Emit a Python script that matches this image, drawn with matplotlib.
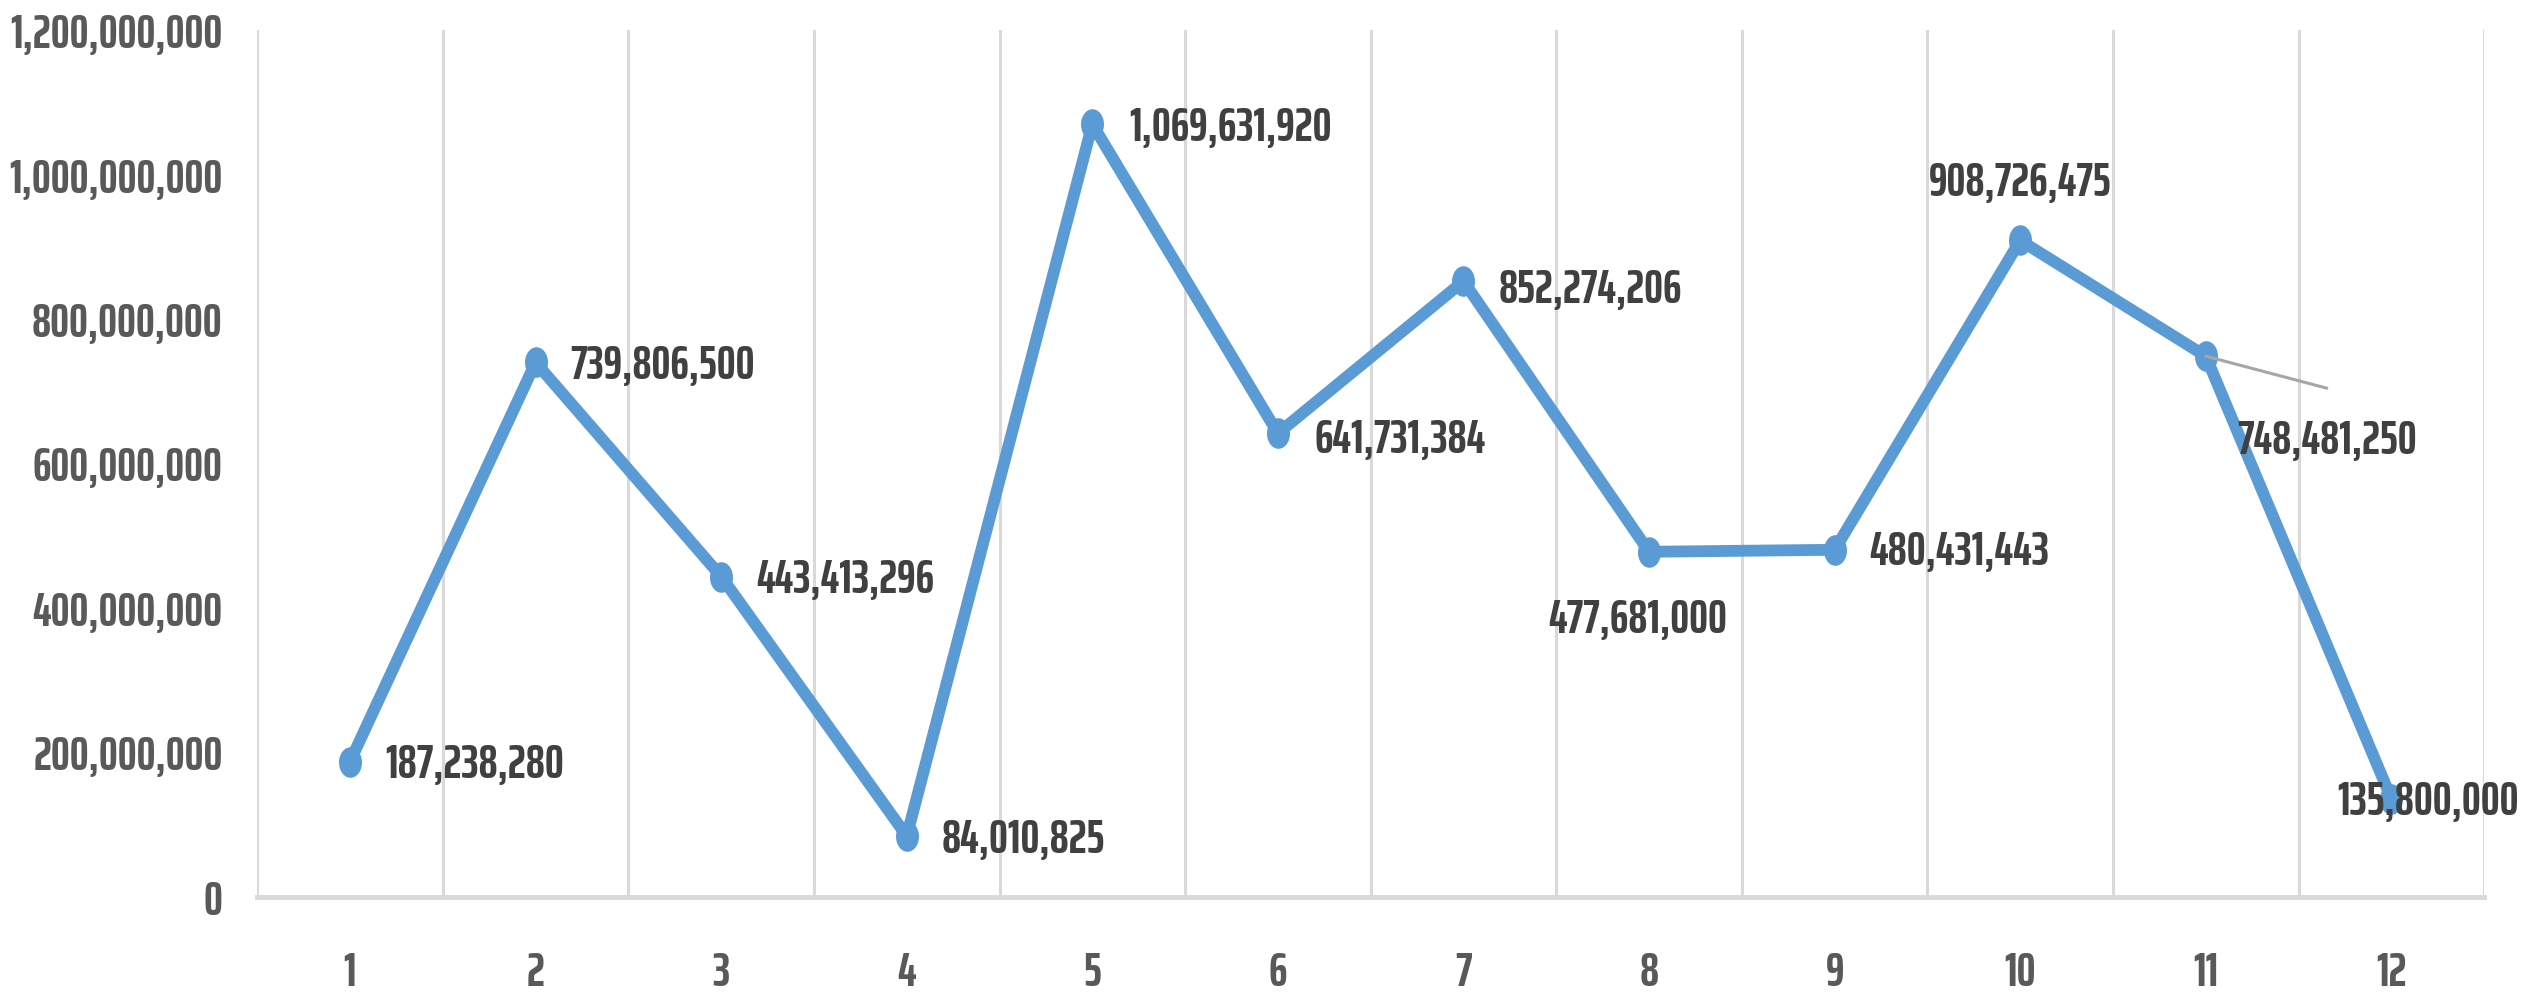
import matplotlib
matplotlib.use("Agg")
import numpy as np
import matplotlib.pyplot as plt
from matplotlib.path import Path
from matplotlib.ticker import FuncFormatter, MultipleLocator

# Datos del gráfico
months = [1, 2, 3, 4, 5, 6, 7, 8, 9, 10, 11, 12]
values = [187238280, 739806500, 443413296, 84010825, 1069631920, 641731384,
          852274206, 477681000, 480431443, 908726475, 748481250, 135800000]
y_ticks = [0, 200000000, 400000000, 600000000, 800000000, 1000000000, 1200000000]

plt.rcParams["font.family"] = ["Saira ExtraCondensed", "DejaVu Sans"]

BLUE = "#5B9BD5"
GRID = "#D9D9D9"
FS = 34

# marcador elíptico (más alto que ancho, como en la referencia)
t = np.linspace(0, 2 * np.pi, 60)
ellipse = Path(np.column_stack([0.74 * np.cos(t), np.sin(t)]), closed=True)

fig = plt.figure(figsize=(25.22, 10.02), dpi=100)
ax = fig.add_axes([0.102, 0.105, 0.883, 0.865])

ax.plot(months, values, color=BLUE, linewidth=8.5, solid_joinstyle="round",
        marker=ellipse, markersize=21, markerfacecolor=BLUE, markeredgecolor=BLUE, zorder=3)

ax.set_xlim(0.5, 12.5)
ax.set_ylim(0, 1200000000)
ax.set_xticks(months)
ax.set_yticks(y_ticks)
ax.xaxis.set_minor_locator(MultipleLocator(1, offset=0.5))
ax.grid(which="minor", axis="x", color=GRID, linewidth=2.2)
ax.tick_params(which="both", length=0)
ax.tick_params(axis="x", pad=38, labelsize=FS, labelcolor="#595959")
ax.tick_params(axis="y", pad=25, labelsize=FS, labelcolor="#595959")
ax.yaxis.set_major_formatter(FuncFormatter(lambda v, p: f"{int(v):,}"))
for lab in ax.get_xticklabels() + ax.get_yticklabels():
    lab.set_fontweight("bold")

for side in ["top", "right", "left"]:
    ax.spines[side].set_visible(False)
ax.spines["bottom"].set_color(GRID)
ax.spines["bottom"].set_linewidth(3.5)

# Etiquetas de datos: (dx, dy, ha) en píxeles
offsets = [(35, -3, "left"), (35, -3, "left"), (35, -3, "left"), (35, -3, "left"),
           (37, -3, "left"), (37, -6, "left"), (35, -8, "left"), (-11, -68, "center"),
           (35, -2, "left"), (0, 58, "center"), (31, -84, "left"), (-54, -3, "left")]
for x, y, (dx, dy, ha) in zip(months, values, offsets):
    ax.annotate(f"{y:,}", (x, y), xytext=(dx, dy), textcoords="offset pixels",
                ha=ha, va="center", fontsize=FS, fontweight="bold", color="#404040",
                zorder=4, annotation_clip=False)

# línea guía de la etiqueta 11
ax.annotate("", (months[10], values[10]), xytext=(121, -32), textcoords="offset pixels",
            arrowprops=dict(arrowstyle="-", color="#A6A6A6", linewidth=2.2,
                            shrinkA=0, shrinkB=0), zorder=4)

fig.savefig("out.png", dpi=100)
